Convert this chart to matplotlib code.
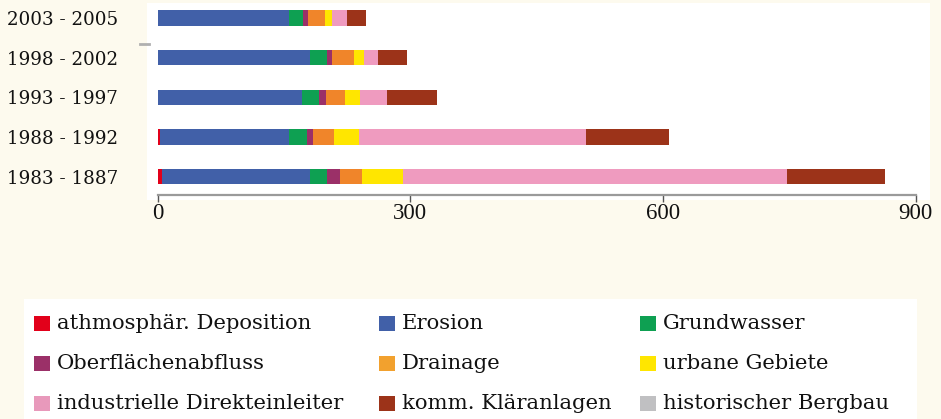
import numpy as np
import matplotlib
matplotlib.use("Agg")
import matplotlib.pyplot as plt
from matplotlib.patches import Rectangle
from matplotlib.lines import Line2D

plt.rcParams['font.family'] = ['Liberation Serif', 'DejaVu Serif']
WIDE = ['DejaVu Serif', 'Liberation Serif']

# ---- data ----
periods = ['2003 - 2005', '1998 - 2002', '1993 - 1997', '1988 - 1992', '1983 - 1887']
series_names = ['athmosphär. Deposition', 'Erosion', 'Grundwasser',
                'Oberflächenabfluss', 'Drainage', 'urbane Gebiete',
                'industrielle Direkteinleiter', 'komm. Kläranlagen', 'historischer Bergbau']
deposition   = [1.0, 1.0, 1.0, 3.0, 5.0]
erosion      = [155.0, 180.0, 171.0, 153.4, 176.0]
grundwasser  = [16.6, 20.5, 19.4, 20.7, 20.5]
oberflaeche  = [5.6, 5.2, 9.1, 7.8, 15.1]
drainage     = [20.2, 26.5, 21.7, 24.9, 25.7]
urban        = [8.7, 12.2, 18.7, 29.3, 48.7]
industrie    = [18.2, 16.6, 32.0, 269.1, 455.7]
klaeranlagen = [21.7, 34.5, 58.9, 98.8, 116.8]
bergbau      = [0.0, 0.0, 0.0, 0.0, 0.0]
xticks = [0, 300, 600, 900]

series = [deposition, erosion, grundwasser, oberflaeche, drainage,
          urban, industrie, klaeranlagen, bergbau]
bar_colors = ['#e2001a', '#4160a8', '#0ea052', '#9b3068', '#f0852a',
              '#ffe600', '#ef9bbf', '#9c3319', '#c0c0c2']
legend_colors = ['#e2001a', '#4160a8', '#0ea052', '#9b3068', '#f2a12e',
                 '#ffe600', '#e899bb', '#9c3319', '#c0c0c2']

W, H = 941, 419
cream = '#fdfaee'
fig = plt.figure(figsize=(W / 100, H / 100), dpi=100, facecolor=cream)

def fx(px):
    return px / W

def fy(py):
    return 1 - py / H

# plot area
ax = fig.add_axes([fx(147), fy(200), (930 - 147) / W, (200 - 3) / H])
ax.set_facecolor('white')

ypos = np.arange(len(periods))[::-1]
left = np.zeros(len(periods))
for vals, col, name in zip(series, bar_colors, series_names):
    ax.barh(ypos, vals, left=left, height=0.39, color=col, label=name, linewidth=0)
    left = left + np.array(vals)

px_per_unit = (915.8 - 157.5) / 900
ax.set_xlim((147 - 157.5) / px_per_unit, (930 - 157.5) / px_per_unit)
row_gap = 39.6
ax.set_ylim((176.5 - 200) / row_gap, (176.5 - 3) / row_gap)

for s in ['top', 'right', 'left']:
    ax.spines[s].set_visible(False)
ax.spines['bottom'].set_position(('data', (176.5 - 195) / row_gap))
ax.spines['bottom'].set_bounds(0, 900)
ax.spines['bottom'].set_color('#9a9a9a')
ax.spines['bottom'].set_linewidth(1.6)

ax.set_xticks(xticks)
ax.set_xticklabels([str(t) for t in xticks])
ax.tick_params(axis='x', direction='out', length=5, width=1, color='#555555',
               pad=1, labelsize=16.5, labelcolor='#111111')
ax.set_yticks(ypos)
ax.set_yticklabels(periods, family=WIDE)
ax.tick_params(axis='y', length=0, pad=21, labelsize=13.2, labelcolor='#111111')

# small grey dash left of plot
fig.add_artist(Line2D([fx(140), fx(149)], [fy(44), fy(44)], color='#b0b0b0', lw=2))

# legend box
fig.add_artist(Rectangle((fx(24), fy(419)), (917 - 24) / W, (419 - 299) / H,
                         transform=fig.transFigure, facecolor='white',
                         edgecolor='none', zorder=1))
col_x = [34, 379, 640]
row_y = [323, 363, 403]
for k, (name, col) in enumerate(zip(series_names, legend_colors)):
    r, c = divmod(k, 3)
    x0 = col_x[c]
    yc = row_y[r]
    fig.add_artist(Rectangle((fx(x0), fy(yc + 7.5)), 15.5 / W, 15 / H,
                             transform=fig.transFigure, facecolor=col,
                             edgecolor='none', zorder=2))
    fig.text(fx(x0 + 23), fy(yc), name, fontsize=15.2, color='#111111',
             va='center', ha='left', zorder=3, family=WIDE)

fig.savefig('out.png', dpi=100, facecolor=cream)
